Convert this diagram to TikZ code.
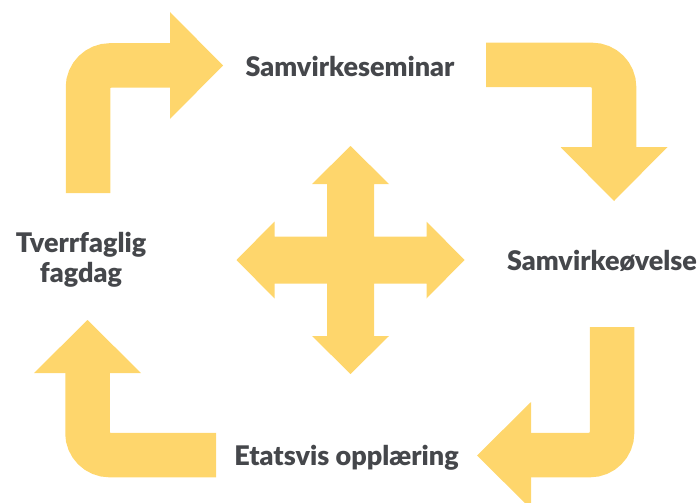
\documentclass[tikz,border=0pt]{standalone}
\usepackage{fontspec}
\setsansfont{Lato}[BoldFont={Lato Black}]
\usepackage{tikz}
\definecolor{arYellow}{HTML}{FED66C}
\definecolor{lblGray}{HTML}{45474B}
\tikzset{
  ar_band/.style = {draw=arYellow, line width=44.5pt, rounded corners=22pt, line cap=butt},% bent band
  ar_head/.style = {fill=arYellow},% arrow head
  lbl/.style = {font=\sffamily\bfseries\fontsize{27}{30}\selectfont, text=lblGray,
    inner sep=0pt, align=center}% label
}

\begin{document}
\begin{tikzpicture}[x=1pt,y=-1pt]
\useasboundingbox (0,0) rectangle (699,503);
% top left
\draw[ar_band] (88,193) -- (88,65.5) -- (171,65.5);
\fill[ar_head] (170,12) -- (223,65.5) -- (170,119) -- cycle;
% top right
\draw[ar_band] (486,65) -- (614,65) -- (614,148);
\fill[ar_head] (560.5,147) -- (614,201) -- (667.5,147) -- cycle;
% bottom right
\draw[ar_band] (612,327) -- (612,455) -- (530,455);
\fill[ar_head] (531,402) -- (477,455.5) -- (531,509) -- cycle;
% bottom left
\draw[ar_band] (216,455) -- (87.5,455) -- (87.5,372);
\fill[ar_head] (34,373) -- (87.5,320) -- (141,373) -- cycle;
% cross
\coordinate (cross) at (350.5,260);
\begin{scope}[shift={(cross)}]
\fill[ar_head] (23.5,-23.5) -- (76,-23.5) -- (76,-38.5) -- (114,0) -- (76,38.5) -- (76,23.5)
  -- (23.5,23.5) -- (23.5,76) -- (38.5,76) -- (0,114) -- (-38.5,76) -- (-23.5,76)
  -- (-23.5,23.5) -- (-76,23.5) -- (-76,38.5) -- (-114,0) -- (-76,-38.5) -- (-76,-23.5)
  -- (-23.5,-23.5) -- (-23.5,-76) -- (-38.5,-76) -- (0,-114) -- (38.5,-76) -- (23.5,-76)
  -- cycle;
\end{scope}
% labels
\node[lbl, anchor=base] (seminar) at (350,77) {Samvirkeseminar};
\node[lbl, anchor=base] (ovelse) at (602,270) {Samvirkeøvelse};
\node[lbl, anchor=base] (opplaering) at (346.5,465) {Etatsvis opplæring};
\node[lbl] (fagdag) at (81,259.5) {Tverrfaglig\\fagdag};
\end{tikzpicture}
\end{document}
